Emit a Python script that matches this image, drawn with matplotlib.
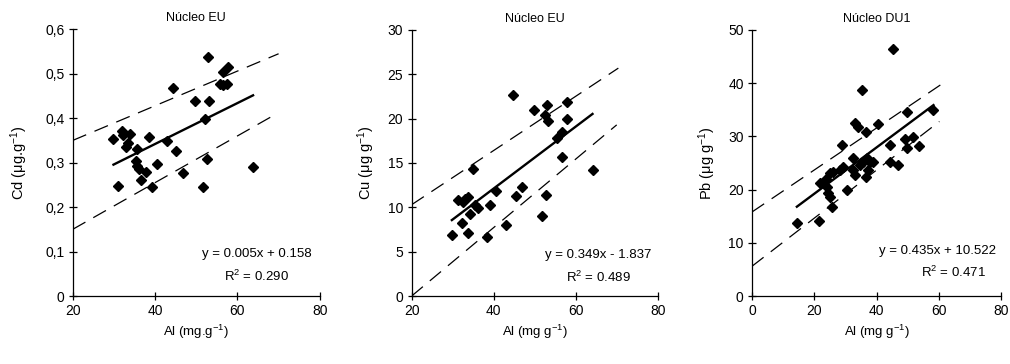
import matplotlib
matplotlib.use("Agg")
import matplotlib.pyplot as plt
from matplotlib.ticker import FixedLocator, FuncFormatter
import numpy as np

plt.rcParams['font.family'] = ['Liberation Sans Narrow', 'Liberation Sans', 'DejaVu Sans']
plt.rcParams['mathtext.default'] = 'regular'
plt.rcParams['lines.scale_dashes'] = False

# --- Cd vs Al, core EU ---
al_cd = [29.9, 31.1, 31.9, 32.3, 32.9, 33.5, 33.9, 35.4, 35.7, 35.7, 36.2, 36.7, 37.8, 38.5, 39.2, 40.5,
         43.0, 44.4, 45.2, 46.7, 49.7, 51.7, 52.1, 52.7, 52.9, 53.1, 55.7, 56.5, 56.5, 57.5, 57.7, 63.8]
cd = [0.353, 0.248, 0.372, 0.362, 0.335, 0.344, 0.364, 0.304, 0.330, 0.292, 0.285, 0.261, 0.280, 0.357,
      0.245, 0.297, 0.349, 0.469, 0.327, 0.276, 0.439, 0.245, 0.398, 0.3075, 0.537, 0.439, 0.478, 0.475,
      0.505, 0.477, 0.516, 0.291]
cd_fit = (0.0046, 0.158, 0.290)            # slope, intercept, R2
cd_upper = ([20, 70], [0.35, 0.545])
cd_lower = ([20, 69.5], [0.15, 0.41])

# --- Cu vs Al, core EU ---
al_cu = [29.8, 31.4, 32.2, 32.4, 32.9, 33.8, 33.8, 34.2, 35.0, 35.4, 36.2, 38.3, 39.1, 40.6, 43.0, 44.6,
         45.4, 46.8, 49.8, 51.7, 52.5, 52.8, 52.9, 53.3, 55.5, 56.6, 56.6, 57.8, 57.8, 64.1]
cu = [6.9, 10.8, 8.2, 10.6, 10.9, 11.2, 7.1, 9.3, 14.3, 10.3, 9.9, 6.7, 10.3, 11.8, 8.0, 22.7,
      11.3, 12.3, 21.0, 9.0, 20.4, 11.4, 21.5, 19.7, 17.8, 18.5, 15.7, 21.9, 20.0, 14.2]
cu_fit = (0.349, -1.837, 0.489)
cu_upper = ([20, 70.4], [10.3, 25.7])
cu_lower = ([20, 70], [0.0, 19.3])

# --- Pb vs Al, core DU1 ---
al_pb = [14.4, 21.6, 21.8, 24.0, 24.5, 25.1, 25.6, 25.1, 26.1, 23.8, 28.3, 28.8, 29.3, 30.4, 32.3, 32.5,
         33.1, 33.1, 34.2, 34.7, 35.3, 35.8, 36.6, 36.6, 36.8, 37.4, 37.9, 39.0, 40.6, 44.3, 44.3, 45.2,
         47.0, 49.2, 49.7, 49.9, 51.6, 53.8, 58.3]
pb = [13.7, 14.1, 21.2, 20.5, 19.3, 18.7, 16.8, 23.1, 23.4, 22.0, 23.7, 28.4, 24.3, 19.9, 23.7, 25.9,
      22.7, 32.5, 31.8, 24.6, 38.7, 25.2, 30.9, 22.3, 25.9, 23.7, 25.2, 25.1, 32.3, 28.4, 25.1, 46.4,
      24.6, 29.6, 34.5, 27.9, 29.9, 28.2, 35.0]
pb_fit = (0.435, 10.522, 0.471)
pb_upper = ([0, 60.6], [15.8, 39.7])
pb_lower = ([0, 60.2], [5.6, 32.8])

titles = ['Núcleo EU', 'Núcleo EU', 'Núcleo DU1']
ylabels = [r'Cd ($\mu$g.g$^{-1}$)', r'Cu ($\mu$g g$^{-1}$)', r'Pb ($\mu$g g$^{-1}$)']
xlabels = [r'Al (mg.g$^{-1}$)', r'Al (mg g$^{-1}$)', r'Al (mg g$^{-1}$)']
xticks = [[20, 40, 60, 80], [20, 40, 60, 80], [0, 20, 40, 60, 80]]
yticks = [[0, 0.1, 0.2, 0.3, 0.4, 0.5, 0.6], [0, 5, 10, 15, 20, 25, 30], [0, 10, 20, 30, 40, 50]]

fig = plt.figure(figsize=(10.10, 3.64), dpi=100)
boxes = [(0.072, 0.1868, 0.2446, 0.7327),
         (0.4076, 0.1868, 0.2436, 0.7308),
         (0.7446, 0.1868, 0.2465, 0.7308)]

panels = [
    (al_cd, cd, cd_fit, cd_upper, cd_lower),
    (al_cu, cu, cu_fit, cu_upper, cu_lower),
    (al_pb, pb, pb_fit, pb_upper, pb_lower),
]
eq_pos = [((0.745, 0.157), (0.745, 0.075)),
          ((0.757, 0.154), (0.757, 0.071)),
          ((0.743, 0.169), (0.807, 0.090))]
ylabel_pad = [11, 8, 7]

for i, (x, y, fit, up, lo) in enumerate(panels):
    ax = fig.add_axes(boxes[i])
    slope, icpt, r2 = fit
    x = np.asarray(x)
    ax.plot(x, y, linestyle='none', marker='D', ms=4.6, color='black', zorder=3)
    xf = np.array([x.min(), x.max()])
    ax.plot(xf, slope * xf + icpt, color='black', lw=1.7, zorder=2)
    for band in (up, lo):
        ax.plot(band[0], band[1], color='black', lw=0.9, dashes=(10.5, 6.5), zorder=2)

    ax.set_xlim(xticks[i][0], xticks[i][-1])
    ax.set_ylim(yticks[i][0], yticks[i][-1])
    ax.xaxis.set_major_locator(FixedLocator(xticks[i]))
    ax.yaxis.set_major_locator(FixedLocator(yticks[i]))
    if i == 0:
        ax.yaxis.set_major_formatter(FuncFormatter(
            lambda v, p: '0' if v == 0 else f'{v:.1f}'.replace('.', ',')))
    for s in ('top', 'right'):
        ax.spines[s].set_visible(False)
    for s in ('left', 'bottom'):
        ax.spines[s].set_linewidth(0.9)
    ax.tick_params(direction='inout', length=6, width=0.9, labelsize=10, pad=3)
    ax.set_title(titles[i], fontsize=9, pad=6)
    ax.set_ylabel(ylabels[i], fontsize=10.5, labelpad=ylabel_pad[i])
    ax.set_xlabel(xlabels[i], fontsize=9.5, labelpad=3)

    sign = '+' if icpt >= 0 else '-'
    eq = f'y = {slope:.3f}x {sign} {abs(icpt):.3f}'
    ax.text(*eq_pos[i][0], eq, transform=ax.transAxes, ha='center', va='center', fontsize=9.5)
    ax.text(*eq_pos[i][1], f'R$^2$ = {r2:.3f}', transform=ax.transAxes,
            ha='center', va='center', fontsize=9.5)

fig.savefig('out.png', dpi=100)
